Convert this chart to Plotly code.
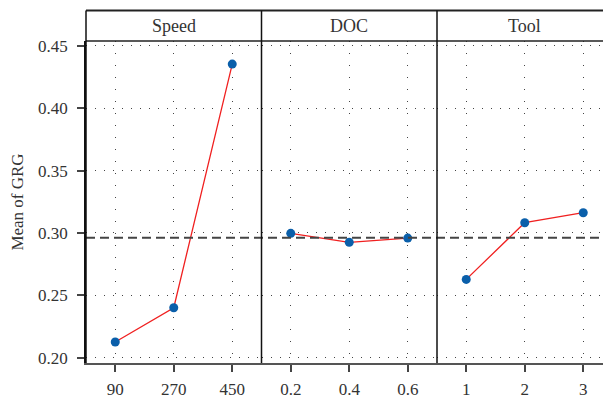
import plotly.graph_objects as go

factors = ["Speed", "DOC", "Tool"]
speed_levels = ["90", "270", "450"]
speed_means = [0.2126, 0.2401, 0.4353]
doc_levels = ["0.2", "0.4", "0.6"]
doc_means = [0.2997, 0.2925, 0.2959]
tool_levels = ["1", "2", "3"]
tool_means = [0.2628, 0.3082, 0.3162]
grand_mean = 0.2962
y_ticks = [0.20, 0.25, 0.30, 0.35, 0.40, 0.45]

W, H = 603, 398
L, R, T, B = 86, 0, 41, 35
pw = W - L - R
ph = H - T - B
panel_px = 175.5
d1 = panel_px / pw
d2 = 2 * panel_px / pw
FONT = "Liberation Serif"
TXT = "#333333"

fig = go.Figure()
levels = [speed_levels, doc_levels, tool_levels]
means = [speed_means, doc_means, tool_means]
for i, (lv, mv) in enumerate(zip(levels, means)):
    sfx = "" if i == 0 else str(i + 1)
    fig.add_trace(go.Scatter(
        x=lv, y=mv, mode="lines+markers",
        line=dict(color="#F02020", width=1.3),
        marker=dict(color="#0A5FAA", size=9),
        xaxis="x" + sfx, yaxis="y" + sfx, showlegend=False,
        cliponaxis=False,
    ))

yr = [0.1958, 0.4538]
domains = [[0, d1], [d1, d2], [d2, 1]]
right_ext = -0.5 + (1 - d2) * pw / (panel_px / 3)
xranges = [[-0.5, 2.5], [-0.5, 2.5], [-0.5, right_ext]]

layout = dict(
    width=W, height=H,
    margin=dict(l=L, r=R, t=T, b=B, pad=0, autoexpand=False),
    paper_bgcolor="white", plot_bgcolor="white",
    font=dict(family=FONT, size=17, color=TXT),
    showlegend=False,
)
for i in range(3):
    sfx = "" if i == 0 else str(i + 1)
    layout["xaxis" + sfx] = dict(
        type="category", domain=domains[i], range=xranges[i],
        anchor="y" + sfx, showgrid=True, gridcolor="#444444", gridwidth=1,
        griddash="1px,11px", showline=True, linecolor="#555555", linewidth=2,
        ticks="outside", ticklen=7, tickcolor="#444444", tickwidth=1.5,
        tickfont=dict(family=FONT, size=17, color=TXT), zeroline=False,
        fixedrange=True, automargin=False, ticklabelstandoff=3,
    )
    ya = dict(
        range=yr, domain=[0, 1], anchor="x" + sfx, tickvals=y_ticks,
        ticktext=[f"{v:.2f}" for v in y_ticks],
        showgrid=True, gridcolor="#444444", gridwidth=1, griddash="1px,8px",
        zeroline=False, fixedrange=True, automargin=False,
    )
    if i == 0:
        ya.update(showline=True, linecolor="#111111", linewidth=1.5,
                  ticks="outside", ticklen=7, tickcolor="#444444", tickwidth=1.5,
                  tickfont=dict(family=FONT, size=17, color=TXT),
                  ticklabelstandoff=6,
                  title=dict(text="Mean of GRG", font=dict(family=FONT, size=17, color=TXT), standoff=10))
    else:
        ya.update(showticklabels=False, showline=False, ticks="")
    layout["yaxis" + sfx] = ya
fig.update_layout(**layout)

top = 1 + (T - 10.5) / ph
shapes = []
shapes.append(dict(type="line", xref="paper", yref="y", x0=0, x1=1, y0=grand_mean, y1=grand_mean,
                   line=dict(color="#444444", width=2, dash="9px,5px")))
shapes.append(dict(type="line", xref="paper", yref="paper", x0=0, x1=1.01, y0=top, y1=top,
                   line=dict(color="#222222", width=2)))
shapes.append(dict(type="line", xref="paper", yref="paper", x0=0, x1=1.01, y0=1, y1=1,
                   line=dict(color="#222222", width=1.5)))
shapes.append(dict(type="line", xref="paper", yref="paper", x0=0, x1=0, y0=0, y1=top,
                   line=dict(color="#111111", width=1.5)))
for xs in [d1, d2]:
    shapes.append(dict(type="line", xref="paper", yref="paper", x0=xs, x1=xs, y0=0, y1=top,
                       line=dict(color="#111111", width=1.5)))
fig.update_layout(shapes=shapes)

centers = [d1 / 2, (d1 + d2) / 2, d2 + (panel_px / 2) / pw]
ymid = 1 + (T - 25.5) / ph
fig.update_layout(annotations=[
    dict(text=f, x=c, y=ymid, xref="paper", yref="paper", showarrow=False,
         xanchor="center", yanchor="middle", font=dict(family=FONT, size=18, color=TXT))
    for f, c in zip(factors, centers)
])

fig.write_html("out.html", config={"displayModeBar": False},
               post_script="document.body.style.margin='0';document.body.style.overflow='hidden';")
